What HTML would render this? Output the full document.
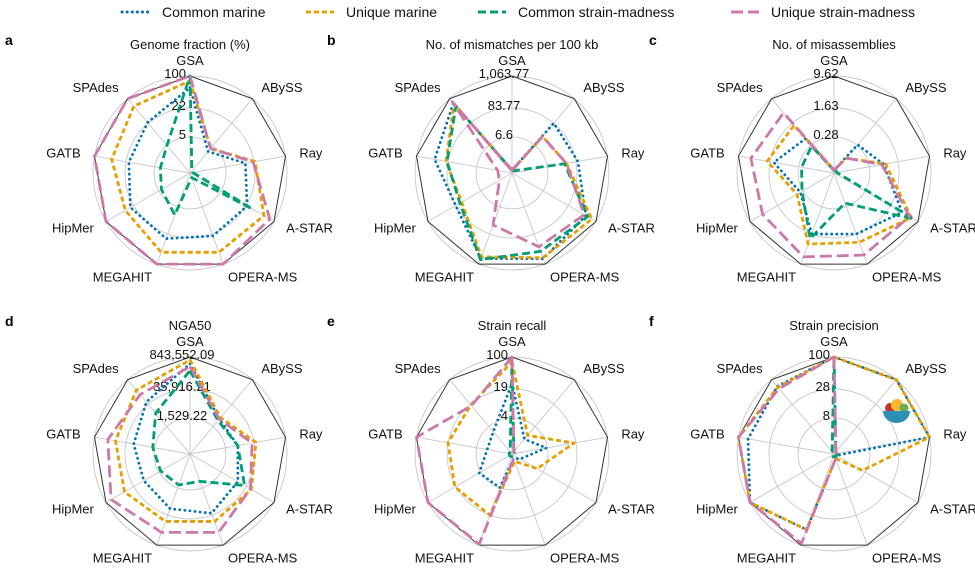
<!DOCTYPE html>
<html><head><meta charset="utf-8"><style>
body{margin:0;background:#fff;}
svg{display:block;font-family:"Liberation Sans",Arial,sans-serif;}
</style></head><body>
<svg id="chart" width="975" height="575" viewBox="0 0 975 575"></svg>
<script>
const categories = ["GSA","ABySS","Ray","A-STAR","OPERA-MS","MEGAHIT","HipMer","GATB","SPAdes"];
const seriesNames = ["Common marine","Unique marine","Common strain-madness","Unique strain-madness"];
const ringLevels = [0.37, 0.67, 1.0];

// values in normalized radial units (0 = centre, 1 = outer ring, log-scaled metric)
const aCommonMarine  = [0.88,0.29,0.58,0.68,0.69,0.72,0.71,0.64,0.68];
const aUniqueMarine  = [0.95,0.33,0.68,0.88,0.87,0.87,0.77,0.82,0.90];
const aCommonStrain  = [1.00,0.03,0.03,0.74,0.05,0.46,0.34,0.31,0.37];
const aUniqueStrain  = [1.00,0.33,0.66,0.95,1.00,1.00,1.00,1.00,1.00];
const aTicks = ["5","22","100"];

const bCommonMarine  = [0.03,0.67,0.69,0.88,0.94,0.94,0.67,0.81,0.94];
const bUniqueMarine  = [0.03,0.49,0.57,0.95,0.93,0.92,0.60,0.69,0.93];
const bCommonStrain  = [0.03,0.03,0.55,0.90,0.86,0.95,0.62,0.68,0.90];
const bUniqueStrain  = [0.03,0.49,0.57,0.86,0.81,0.57,0.15,0.15,0.96];
const bTicks = ["6.6","83.77","1,063.77"];

const cCommonMarine  = [0.03,0.38,0.52,0.81,0.67,0.67,0.40,0.63,0.46];
const cUniqueMarine  = [0.03,0.20,0.54,0.92,0.76,0.78,0.44,0.70,0.64];
const cCommonStrain  = [0.03,0.03,0.03,0.95,0.33,0.72,0.38,0.34,0.36];
const cUniqueStrain  = [0.03,0.20,0.50,0.90,0.90,0.92,0.85,0.87,0.81];
const cTicks = ["0.28","1.63","9.62"];

const dCommonMarine  = [0.93,0.47,0.50,0.57,0.65,0.60,0.55,0.59,0.70];
const dUniqueMarine  = [0.97,0.49,0.69,0.73,0.74,0.74,0.78,0.78,0.86];
const dCommonStrain  = [0.86,0.45,0.50,0.65,0.30,0.34,0.35,0.39,0.55];
const dUniqueStrain  = [0.90,0.47,0.65,0.72,0.86,0.86,0.94,0.86,0.80];
const dTicks = ["1,529.22","35,916.21","843,552.09"];

const eCommonMarine  = [0.73,0.20,0.36,0.10,0.05,0.37,0.39,0.26,0.30];
const eUniqueMarine  = [0.95,0.25,0.65,0.30,0.08,0.67,0.68,0.67,0.66];
const eCommonStrain  = [0.95,0.03,0.03,0.03,0.03,0.03,0.03,0.03,0.03];
const eUniqueStrain  = [1.00,0.03,0.03,0.03,0.05,0.99,1.00,1.00,0.65];
const eTicks = ["4","19","100"];

const fCommonMarine  = [1.00,1.00,1.00,0.03,0.05,0.83,1.00,0.90,0.91];
const fUniqueMarine  = [1.00,1.00,1.00,0.34,0.05,0.83,1.00,1.00,0.90];
const fCommonStrain  = [1.00,0.03,0.03,0.03,0.03,0.03,0.03,0.03,0.03];
const fUniqueStrain  = [1.00,0.03,0.03,0.03,0.05,0.98,1.00,1.00,0.88];
const fTicks = ["8","28","100"];

const NS = "http://www.w3.org/2000/svg";
const svg = document.getElementById("chart");
const colors = ["#0072B2","#E69F00","#009E73","#CC79A7"];
const dashes = ["0.1 5","5 3","8 4","12 5"];
const caps = ["round","butt","butt","butt"];
const R = 97;

function mk(tag, attrs, parent){
  const e = document.createElementNS(NS, tag);
  for (const k in attrs) e.setAttribute(k, attrs[k]);
  (parent||svg).appendChild(e);
  return e;
}
function angle(i){ return i*2*Math.PI/categories.length; }
function pt(cx, cy, i, v){ const a = angle(i); return [cx + R*v*Math.sin(a), cy - R*v*Math.cos(a)]; }

// legend
const legendX = [122, 306, 478, 731];
seriesNames.forEach((n, s) => {
  const g = mk("g", {});
  
  
  mk("line", {x1:legendX[s], y1:12, x2:legendX[s]+28, y2:12, stroke:colors[s], "stroke-width":3, "stroke-dasharray":dashes[s], "stroke-linecap":caps[s]}, g);
  const t = mk("text", {x:legendX[s]+40, y:17, "font-size":14, fill:"#111"}, g);
  t.textContent = n;
});

function panel(letter, title, cx, cy, ticks, series, tickMode){
  const g = mk("g", {});
  
  
  const lt = mk("text", {x: cx - 185 + (letter==='a'||letter==='d'?0:0), y: cy - 128, "font-size":14, "font-weight":"bold", fill:"#000"}, g);
  
  
  lt.textContent = letter;
  const tt = mk("text", {x:cx, y:cy-124, "font-size":13, "text-anchor":"middle", fill:"#111"}, g);
  
  
  tt.textContent = title;
  // rings
  ringLevels.forEach(l => {
    const c = mk("circle", {cx, cy, r:R*l, fill:"none", stroke:"#c8c8c8", "stroke-width":0.9}, g);
    
    
  });
  // spokes
  categories.forEach((c, i) => {
    const p = pt(cx, cy, i, 1);
    const l = mk("line", {x1:cx, y1:cy, x2:p[0], y2:p[1], stroke:"#c8c8c8", "stroke-width":0.9}, g);
    
    
  });
  // outer polygon
  const outer = categories.map((c,i) => pt(cx, cy, i, 1).join(",")).join(" ");
  const op = mk("polygon", {points:outer, fill:"none", stroke:"#333", "stroke-width":1}, g);
  
  
  // tick labels
  ticks.forEach((t, k) => {
    const r = R*ringLevels[k];
    const attrs = tickMode === "end"
      ? {x:cx-4, y:cy-r+2, "text-anchor":"end"}
      : {x:cx-8, y:cy-r+2, "text-anchor":"middle"};
    const te = mk("text", Object.assign(attrs, {"font-size":13, fill:"#111"}), g);
    
    
    te.textContent = t;
  });
  // category labels
  categories.forEach((c, i) => {
    let te;
    if (i === 0) {
      te = mk("text", {x:cx, y:cy-108, "font-size":13, "text-anchor":"middle", fill:"#111"}, g);
    } else {
      const a = angle(i);
      const px = cx + (R+14)*Math.sin(a), py = cy - (R+14)*Math.cos(a);
      const anchor = Math.sin(a) > 0.05 ? "start" : (Math.sin(a) < -0.05 ? "end" : "middle");
      te = mk("text", {x:px, y:py+4, "font-size":13, "text-anchor":anchor, fill:"#111"}, g);
    }
    
    
    te.textContent = c;
  });
  // series
  series.forEach((vals, s) => {
    const pts = vals.map((v, i) => pt(cx, cy, i, v).join(",")).join(" ");
    const p = mk("polygon", {points:pts, fill:"none", stroke:colors[s], "stroke-width":2.8, "stroke-dasharray":dashes[s], "stroke-linecap":caps[s], "stroke-linejoin":"round"}, g);
    
    
  });
}

panel("a","Genome fraction (%)",190,173,aTicks,[aCommonMarine,aUniqueMarine,aCommonStrain,aUniqueStrain],"end");
panel("b","No. of mismatches per 100 kb",512,173,bTicks,[bCommonMarine,bUniqueMarine,bCommonStrain,bUniqueStrain],"mid");
panel("c","No. of misassemblies",834,173,cTicks,[cCommonMarine,cUniqueMarine,cCommonStrain,cUniqueStrain],"mid");
panel("d","NGA50",190,454,dTicks,[dCommonMarine,dUniqueMarine,dCommonStrain,dUniqueStrain],"mid");
panel("e","Strain recall",512,454,eTicks,[eCommonMarine,eUniqueMarine,eCommonStrain,eUniqueStrain],"end");
panel("f","Strain precision",834,454,fTicks,[fCommonMarine,fUniqueMarine,fCommonStrain,fUniqueStrain],"end");

// small bowl icon in panel f
const icon = mk("g", {});


mk("circle", {cx:890, cy:408, r:5, fill:"#c0392b"}, icon);
mk("circle", {cx:897, cy:405, r:6, fill:"#f5b82e"}, icon);
mk("circle", {cx:904, cy:408, r:4.5, fill:"#6ab04c"}, icon);
mk("path", {d:"M883 411 L910 411 A13.5 12 0 0 1 883 411 Z", fill:"#2e8fb5"}, icon);
</script>
</body></html>
